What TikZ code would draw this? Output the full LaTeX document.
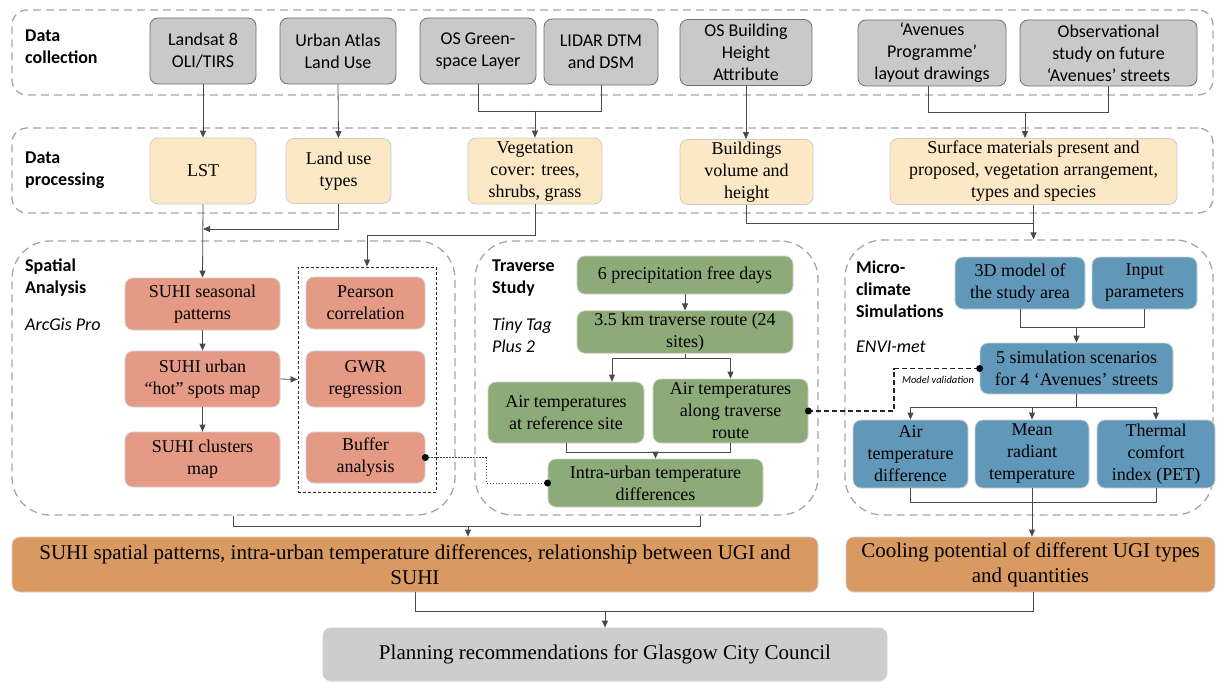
\documentclass[tikz,border=0pt]{standalone}
\usepackage{fontspec}
\setmainfont{Liberation Serif}
\newfontfamily\calfont{Carlito}
\usetikzlibrary{arrows.meta,calc}
\definecolor{cgray}{HTML}{C9C9C9}
\definecolor{cgrayb}{HTML}{707070}
\definecolor{cbeige}{HTML}{FCE8C4}
\definecolor{csalmon}{HTML}{E49A85}
\definecolor{cgreen}{HTML}{8DAB78}
\definecolor{cblue}{HTML}{6198BA}
\definecolor{corange}{HTML}{D99A61}
\definecolor{cplan}{HTML}{CDCDCD}
\definecolor{cpanel}{HTML}{A6A6A6}
\definecolor{cline}{HTML}{4A4A4A}
\tikzset{
  base/.style={rounded corners=8pt, align=center, inner sep=2pt, line width=0.8pt},
  gbox/.style={base, fill=cgray, draw=cgrayb, font=\calfont\fontsize{18}{22}\selectfont},
  ybox/.style={base, fill=cbeige, draw=black!20, font=\fontsize{18}{22}\selectfont},
  sbox/.style={base, fill=csalmon, draw=black!18, font=\fontsize{18}{22}\selectfont},
  grbox/.style={base, fill=cgreen, draw=black!18, font=\fontsize{18}{22}\selectfont},
  bbox/.style={base, fill=cblue, draw=black!18, font=\fontsize{18}{22}\selectfont},
  obox/.style={base, fill=corange, draw=black!18, font=\fontsize{21}{25}\selectfont},
  pbox/.style={base, fill=cplan, draw=black!18, font=\fontsize{21}{25}\selectfont},
  band/.style={draw=cpanel, line width=1.3pt, dash pattern=on 8pt off 5pt, rounded corners=15pt, inner sep=0pt},
  panel/.style={draw=cpanel, line width=1.3pt, dash pattern=on 8pt off 5pt, rounded corners=38pt, inner sep=0pt},
  grpbox/.style={draw=black!85, line width=0.9pt, dash pattern=on 3pt off 2pt, inner sep=0pt},
  lab/.style={anchor=west, align=left, inner sep=0pt, font=\calfont\bfseries\fontsize{18}{22}\selectfont},
  ilab/.style={anchor=west, align=left, inner sep=0pt, font=\calfont\itshape\fontsize{18}{22}\selectfont},
  ln/.style={draw=cline, line width=0.8pt},
  arr/.style={draw=cline, line width=0.8pt, -{Triangle[length=7pt,width=6pt]}},
  dotln/.style={draw=cline, line width=0.9pt, dash pattern=on 1.5pt off 1.5pt},
  dashln/.style={draw=black!85, line width=1.1pt, dash pattern=on 5pt off 3pt},
}
\begin{document}
\begin{tikzpicture}[x=1pt,y=-1pt]
\useasboundingbox (0,0) rectangle (1217,682);
\fill[white] (0,0) rectangle (1217,682);

% panels
\node[band, minimum width=1201pt, minimum height=85pt] (b1) at (612.5,52.5) {};
\node[band, minimum width=1201pt, minimum height=85pt] (b2) at (612.5,170.5) {};
\node[panel, minimum width=443pt, minimum height=274pt] (sp) at (233.5,378) {};
\node[panel, minimum width=343pt, minimum height=274pt] (tr) at (646.5,378) {};
\node[panel, minimum width=368pt, minimum height=275pt] (mc) at (1029,377.5) {};
\node[grpbox, minimum width=138pt, minimum height=225pt] (grp) at (367,379.5) {};

% labels
\node[lab] (l1) at (25,47) {Data\\collection};
\node[lab] (l2) at (25,170) {Data\\processing};
\node[lab] (l3) at (25,278) {Spatial\\Analysis};
\node[ilab] (l3i) at (25,324) {ArcGis Pro};
\node[lab] (l4) at (492,278) {Traverse\\Study};
\node[ilab] (l4i) at (492,335) {Tiny Tag\\Plus 2};
\node[lab] (l5) at (856,289) {Micro-\\climate\\Simulations};
\node[ilab] (l5i) at (856,347) {ENVI-met};

% data collection
\node[gbox, minimum width=106pt, minimum height=66pt] (landsat) at (203,51) {Landsat 8\\OLI/TIRS};
\node[gbox, minimum width=116pt, minimum height=66pt] (urban) at (338,51) {Urban Atlas\\Land Use};
\node[gbox, minimum width=116pt, minimum height=66pt] (osgreen) at (478,51) {OS Green-\\space Layer};
\node[gbox, minimum width=114pt, minimum height=66pt] (lidar) at (601,52) {LIDAR DTM\\and DSM};
\node[gbox, minimum width=132pt, minimum height=66pt] (osbuild) at (746,52.5) {OS Building\\Height\\Attribute};
\node[gbox, minimum width=148pt, minimum height=66pt] (avenues) at (932,53) {‘Avenues\\Programme’\\layout drawings};
\node[gbox, minimum width=177pt, minimum height=66pt] (observ) at (1108.5,53) {Observational\\study on future\\‘Avenues’ streets};

% data processing
\node[ybox, minimum width=106pt, minimum height=66pt] (lst) at (203,171) {LST};
\node[ybox, minimum width=105pt, minimum height=65pt] (landuse) at (338.5,171) {Land use\\types};
\node[ybox, minimum width=134pt, minimum height=66pt] (veg) at (535,171) {Vegetation\\cover: trees,\\shrubs, grass};
\node[ybox, minimum width=133pt, minimum height=65pt] (bldg) at (746.5,172) {Buildings\\volume and\\height};
\node[ybox, minimum width=287pt, minimum height=66pt] (surf) at (1033.5,171.5) {Surface materials present and\\proposed, vegetation arrangement,\\types and species};

% spatial analysis
\node[sbox, minimum width=155pt, minimum height=52pt] (suhi1) at (202.5,304) {SUHI seasonal\\patterns};
\node[sbox, minimum width=155pt, minimum height=56pt] (suhi2) at (202.5,379) {SUHI urban\\“hot” spots map};
\node[sbox, minimum width=155pt, minimum height=55pt] (suhi3) at (202.5,459.5) {SUHI clusters\\map};
\node[sbox, minimum width=119pt, minimum height=52pt] (pearson) at (365.5,303) {Pearson\\correlation};
\node[sbox, minimum width=119pt, minimum height=56pt] (gwr) at (365.5,379) {GWR\\regression};
\node[sbox, minimum width=119pt, minimum height=51pt] (buffer) at (365.5,457.5) {Buffer\\analysis};

% traverse study
\node[grbox, minimum width=216pt, minimum height=38pt] (precip) at (685,275) {6 precipitation free days};
\node[grbox, minimum width=216pt, minimum height=42pt] (route) at (685,332) {3.5 km traverse route (24\\sites)};
\node[grbox, minimum width=156pt, minimum height=61pt] (airref) at (566,412.5) {Air temperatures\\at reference site};
\node[grbox, minimum width=155pt, minimum height=64pt] (airalong) at (730.5,411) {Air temperatures\\along traverse\\route};
\node[grbox, minimum width=215pt, minimum height=48pt] (intra) at (655.5,483) {Intra-urban temperature\\differences};

% micro-climate
\node[bbox, minimum width=130pt, minimum height=52pt] (model3d) at (1020,283) {3D model of\\the study area};
\node[bbox, minimum width=105pt, minimum height=52pt] (input) at (1144.5,283) {Input\\parameters};
\node[bbox, minimum width=193pt, minimum height=51pt] (sim5) at (1076.5,368.5) {5 simulation scenarios\\for 4 ‘Avenues’ streets};
\node[bbox, minimum width=115pt, minimum height=68pt] (airdiff) at (910.5,454) {Air\\temperature\\difference};
\node[bbox, minimum width=114pt, minimum height=68pt] (mrt) at (1032,454) {Mean\\radiant\\temperature};
\node[bbox, minimum width=118pt, minimum height=68pt] (pet) at (1156,454) {Thermal\\comfort\\index (PET)};

% outputs
\node[obox, minimum width=806pt, minimum height=55pt] (suhiout) at (415,564.5) {SUHI spatial patterns, intra-urban temperature differences, relationship between UGI and\\SUHI};
\node[obox, minimum width=369pt, minimum height=55pt] (cooling) at (1030.5,564.5) {Cooling potential of different UGI types\\and quantities};
\node[pbox, minimum width=564pt, minimum height=53pt] (planning) at (605,654.5) {Planning recommendations for Glasgow City Council};

% connectors: collection -> processing
\draw[arr] (landsat.south) -- (lst.north);
\draw[arr] (urban.south) -- (landuse.north);
\coordinate (j1) at (535,111);
\draw[ln] (osgreen.south) |- (j1);
\draw[ln] (lidar.south) |- (j1);
\draw[arr] (j1) -- (veg.north);
\draw[arr] (osbuild.south) -- (osbuild.south |- bldg.north);
\coordinate (j2) at (1025,112);
\coordinate (a1) at (928,86);
\draw[ln] (a1) |- (j2);
\draw[ln] (observ.south) |- (j2);
\draw[arr] (j2) -- (j2 |- surf.north);

% processing -> analyses
\coordinate (j3) at (203,229);
\draw[arr] (landuse.south) |- (j3);
\draw[arr] (lst.south) -- (suhi1.north);
\coordinate (j4) at (535,235);
\draw[arr] (veg.south) -- (j4) -| (grp.north);
\coordinate (j5) at (1033.5,223);
\draw[ln] (bldg.south) |- (j5);
\draw[arr] (surf.south) -- (surf.south |- mc.north);

% spatial analysis
\draw[arr] (suhi1.south) -- (suhi2.north);
\draw[arr] (suhi2.south) -- (suhi3.north);
\draw[arr] (suhi2.east) -- (grp.west);
\coordinate (d1) at (486,457.5);
\coordinate (d2) at (486,483);
\draw[dotln] (buffer.east) -- (d1) -- (d2) -- (intra.west);
\fill[black] (buffer.east) circle (3.5pt);
\fill[black] (intra.west) circle (3.5pt);

% traverse
\draw[arr] (precip.south) -- (route.north);
\coordinate (r1) at (685,358);
\draw[ln] (route.south) -- (r1);
\draw[arr] (r1) -| ([xshift=46pt]airref.north);
\draw[arr] (r1) -| (airalong.north);
\coordinate (r2) at (655.5,452);
\draw[ln] (airref.south) |- (r2);
\draw[ln] (airalong.south) |- (r2);
\draw[arr] (r2) -- (intra.north);

% model validation
\coordinate (v1) at (894,411);
\coordinate (v2) at (894,368.5);
\draw[dashln] (airalong.east) -- (v1) -- (v2) -- (sim5.west);
\fill[black] (airalong.east) circle (3.5pt);
\fill[black] (sim5.west) circle (3.5pt);
\node[font=\calfont\itshape\fontsize{10.5}{12}\selectfont, inner sep=0pt] (mv) at (938,380) {Model validation};

% micro-climate
\coordinate (m1) at (1076.5,327);
\draw[ln] (model3d.south) |- (m1);
\draw[ln] (input.south) |- (m1);
\draw[arr] (m1) -- (sim5.north);
\coordinate (m2) at (1076.5,407);
\draw[ln] (sim5.south) -- (m2);
\draw[arr] (m2) -| (airdiff.north);
\draw[arr] (m2) -| (mrt.north);
\draw[arr] (m2) -| (pet.north);
\coordinate (m3) at (910.5,502);
\draw[ln] (airdiff.south) -- (m3) -| (pet.south);
\draw[arr] (mrt.south) -- (mrt.south |- cooling.north);

% outputs
\coordinate (o1) at (233.5,526);
\coordinate (o2) at (700,526);
\draw[ln] (sp.south) -- (o1) -- (o2) -- (o2 |- tr.south);
\coordinate (o3) at (468,526);
\draw[arr] (o3) -- (o3 |- suhiout.north);
\coordinate (p1) at (415,611);
\coordinate (p2) at (1033,611);
\draw[ln] (suhiout.south) -- (p1) -- (p2) -- (p2 |- cooling.south);
\coordinate (p3) at (605,611);
\draw[arr] (p3) -- (planning.north);
\end{tikzpicture}
\end{document}
